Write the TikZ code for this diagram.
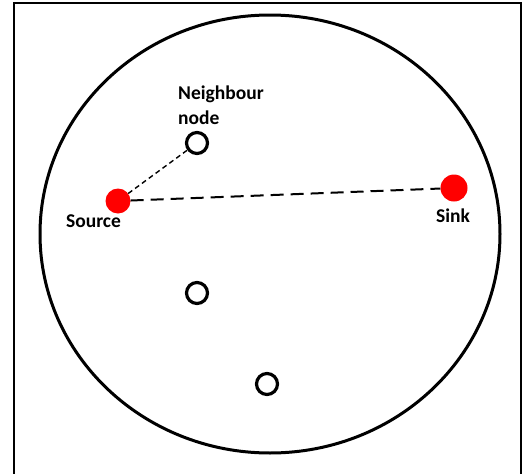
\documentclass[tikz,border=0pt]{standalone}
\usepackage{fontspec}
\setmainfont{Carlito}
\usepackage{tikz}

\begin{document}
\begin{tikzpicture}[x=1pt,y=-1pt,
    redpt/.style={circle,fill=red,inner sep=0pt,minimum size=#1},
    nbpt/.style={circle,draw,line width=3.2pt,inner sep=0pt,minimum size=21pt},
    lbl/.style={font=\bfseries\fontsize{19.5}{25}\selectfont,inner sep=0pt}]
    \useasboundingbox (0,0) rectangle (525,474);
    \draw[line width=2pt] (14,475) -- (14,3) -- (521,3) -- (521,475);
    \draw[line width=3pt] (270,234) ellipse [x radius=230, y radius=219];
    \node[redpt=25pt] (source) at (118,201) {};
    \node[redpt=27pt] (sink) at (454,188) {};
    \node[nbpt] (nb) at (197,143) {};
    \node[nbpt] (n2) at (197,293) {};
    \node[nbpt] (n3) at (267,384) {};
    \draw[line width=1.4pt,dash pattern=on 5pt off 3.5pt] (source) -- (nb);
    \draw[line width=2pt,dash pattern=on 13pt off 7pt] (source) -- (sink);
    \node[lbl,anchor=base] (sourcelbl) at (93.5,227) {Source};
    \node[lbl,anchor=base] (sinklbl) at (453,222) {Sink};
    \node[lbl,align=left,anchor=north west] (nblbl) at (178,86) {Neighbour\\node};
\end{tikzpicture}
\end{document}
